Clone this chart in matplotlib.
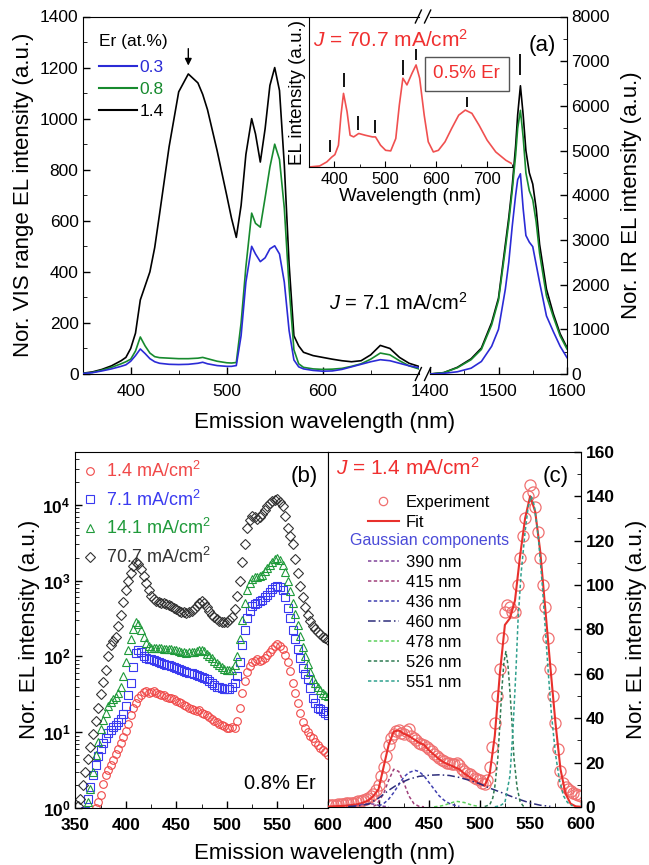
import matplotlib
matplotlib.use('Agg')
import matplotlib.pyplot as plt
import numpy as np
from matplotlib.lines import Line2D
from matplotlib.ticker import MultipleLocator, FuncFormatter, LogLocator, NullFormatter

plt.rcParams['font.family'] = ['Liberation Sans', 'DejaVu Sans']
plt.rcParams['mathtext.fontset'] = 'custom'
plt.rcParams['mathtext.rm'] = 'Liberation Sans'
plt.rcParams['mathtext.it'] = 'Liberation Sans:italic'
plt.rcParams['mathtext.bf'] = 'Liberation Sans:bold'
plt.rcParams['xtick.direction'] = 'in'
plt.rcParams['ytick.direction'] = 'in'

# ---------- (a) VIS part, Er 0.3 / 0.8 / 1.4 at.% ----------
vis_wl = [350, 360, 370, 380, 390, 395, 400, 405, 410, 415, 420, 425, 430, 440, 450, 460, 470, 475,
          480, 490, 500, 505, 510, 515, 520, 526, 530, 535, 540, 545, 550, 555, 560, 565, 570, 575,
          580, 590, 600, 610, 620, 630, 640, 650, 660, 670, 680, 690, 700]
vis_03 = [2, 5, 12, 20, 30, 36, 50, 72, 98, 80, 60, 48, 42, 38, 37, 38, 42, 46,
          40, 33, 30, 30, 33, 150, 360, 500, 470, 440, 455, 490, 502, 470, 360, 170, 55, 28,
          20, 14, 11, 12, 18, 28, 38, 48, 56, 52, 42, 32, 25]
vis_08 = [2, 6, 15, 26, 40, 48, 58, 90, 145, 110, 82, 68, 64, 62, 60, 60, 62, 65,
          60, 50, 44, 43, 45, 200, 420, 630, 590, 575, 690, 810, 900, 840, 650, 340, 95, 40,
          26, 20, 18, 19, 22, 30, 40, 58, 82, 75, 52, 32, 20]
vis_14 = [3, 8, 18, 32, 52, 65, 100, 160, 290, 345, 400, 495, 625, 890, 1105, 1175, 1140, 1095,
          1035, 875, 700, 610, 535, 660, 860, 1000, 940, 830, 960, 1130, 1200, 1110, 820, 430, 150, 110,
          85, 72, 65, 58, 52, 48, 52, 75, 112, 100, 65, 42, 30]

# ---------- (a) IR part ----------
ir_wl = [1400, 1420, 1440, 1460, 1475, 1490, 1500, 1510, 1515, 1520, 1525, 1528, 1532, 1536,
         1540, 1545, 1550, 1555, 1560, 1570, 1580, 1590, 1600]
ir_03 = [0, 15, 50, 130, 280, 620, 1000, 1900, 2500, 3300, 4000, 4350, 4480, 3700,
         3100, 2950, 2850, 2450, 2050, 1300, 950, 620, 366]
ir_08 = [0, 30, 140, 320, 550, 1100, 1650, 2800, 3400, 4100, 4900, 5500, 5900, 5300,
         4500, 4100, 3900, 3400, 2700, 1750, 1280, 850, 560]
ir_14 = [0, 30, 150, 340, 580, 1150, 1700, 2900, 3500, 4200, 5100, 5800, 6450, 5800,
         5000, 4500, 4250, 3700, 2900, 1900, 1350, 900, 590]

# ---------- inset, 0.5% Er at 70.7 mA/cm2 ----------
ins_wl = [350, 371, 385, 395, 401, 408, 413, 418, 425, 431, 438, 448, 461, 475, 481, 491, 501, 511,
          521, 528, 535, 543, 553, 561, 568, 577, 585, 595, 605, 618, 631, 645, 658, 671, 685,
          701, 718, 738, 753]
ins_int = [0, 0.007, 0.034, 0.067, 0.083, 0.146, 0.348, 0.494, 0.371, 0.213, 0.202, 0.225, 0.213,
           0.202, 0.202, 0.146, 0.112, 0.108, 0.191, 0.416, 0.596, 0.551, 0.629, 0.685, 0.596,
           0.348, 0.169, 0.101, 0.112, 0.169, 0.258, 0.348, 0.382, 0.360, 0.281, 0.180, 0.101,
           0.045, 0.016]
ins_peaks = [392, 418, 447, 480, 535, 560, 662]
ins_mark_lo = [0.10, 0.54, 0.25, 0.225, 0.62, 0.72, 0.40]
ins_mark_hi = [0.18, 0.63, 0.34, 0.315, 0.72, 0.79, 0.47]

# ---------- (b) 0.8% Er, current density series (2.5 nm steps, 350-600 nm) ----------
b_wl = np.arange(350, 600.1, 2.5)
b_j14 = [0.3, 0.35, 0.4, 0.45, 0.5, 0.6, 0.7, 0.85, 1.0, 1.2, 1.5, 2.1, 2.7, 3.2, 3.7, 4.3, 5.1, 6.0,
         7.2, 8.7, 10.5, 13, 17, 21, 24, 28, 31, 33.5, 34.5, 33, 34, 34.5, 33, 32, 31, 30.5, 29.5, 28.5,
         28, 27, 26, 25, 24, 23, 22, 21, 20.5, 19.5, 19, 19.5, 18, 17.5, 17, 16, 15, 14, 13.5, 13,
         12.5, 12, 11.5, 11.2, 11.7, 11.5, 14, 21, 33, 48, 62, 75, 84, 88, 91, 88, 90, 96, 104, 113,
         125, 137, 145, 138, 125, 105, 85, 64, 45, 33, 24, 18, 13.5, 11.5, 10, 9, 8.5, 7.5, 6.8, 6.2,
         5.8, 5.4, 5]
b_j71 = [0.3, 0.4, 0.5, 0.7, 0.9, 1.3, 1.9, 2.7, 3.7, 4.8, 6, 7.3, 8.5, 9.7, 10.7, 11.6, 12.5, 13.5,
         15, 17.5, 22, 31, 45, 72, 110, 122, 115, 102, 95, 93, 92, 90, 88, 85, 82, 80, 78, 76,
         74, 72, 70, 68, 66, 64, 63, 61, 60, 58, 56, 55, 53, 52, 50, 47, 44, 42, 40, 39,
         38, 37, 37, 37, 39, 44, 55, 85, 140, 220, 320, 400, 460, 490, 510, 530, 560, 600, 650, 710,
         780, 830, 860, 830, 760, 610, 440, 320, 224, 170, 126, 95, 71, 58, 50, 38, 28, 24, 21, 20,
         19, 18, 17]
b_j141 = [0.5, 0.6, 0.7, 0.8, 0.9, 1.2, 1.8, 3, 5, 7.5, 11, 14.5, 18, 22, 25, 27, 29, 33,
          40, 55, 85, 120, 170, 230, 280, 265, 220, 180, 150, 138, 130, 129, 128, 128, 128, 127, 126, 125,
          124, 122, 120, 117, 115, 113, 112, 113, 114, 115, 117, 120, 122, 116, 108, 101, 95, 88, 82, 76,
          72, 69, 67, 66, 66, 76, 100, 170, 300, 500, 750, 920, 1050, 1100, 1120, 1140, 1200, 1320, 1450, 1600,
          1750, 1900, 2000, 1850, 1600, 1300, 1000, 720, 500, 360, 263, 185, 135, 100, 79, 62, 50, 44, 40, 36,
          33, 31, 30]
b_j707 = [0.85, 1.05, 1.3, 2.0, 3.0, 4.4, 6.3, 9.5, 14, 21, 32, 46, 66, 100, 141, 160, 178, 250,
          355, 520, 760, 1000, 1260, 1550, 1740, 1650, 1410, 1150, 930, 760, 630, 570, 537, 525, 513, 500, 490, 475,
          457, 435, 417, 400, 389, 380, 372, 380, 398, 425, 457, 500, 537, 500, 447, 400, 355, 330, 309, 295,
          288, 285, 288, 305, 331, 420, 630, 1000, 1780, 3000, 5010, 6300, 7080, 6900, 6460, 6800, 7590, 8500, 9550, 10500,
          11200, 11600, 11750, 11000, 9550, 7200, 5010, 3900, 3020, 1900, 1260, 850, 603, 450, 355, 295, 251, 228, 209, 195,
          182, 173, 166]

# ---------- (c) 1.4 mA/cm2, experiment, fit and Gaussian components ----------
c_exp_wl = np.arange(350, 600.1, 2.5)
c_exp = [0.8, 0.9, 1, 1.1, 1.2, 1.3, 1.5, 1.6, 1.8, 1.9, 2, 2.3, 2.5, 2.8, 3, 3.5, 4, 5,
         6, 7.5, 10, 14, 18, 23, 28, 31, 33, 34, 34.5, 33.5, 33, 34, 35, 32, 31, 30, 29, 28.5,
         28, 27, 26, 25, 24, 23, 22, 21, 20.5, 20, 20, 19.5, 19.5, 20, 19, 17, 16, 15.5, 15, 14,
         13, 12.5, 12, 11, 10.5, 12, 18, 27, 38, 50, 62, 76, 88, 91, 90, 88, 88, 100, 112, 122,
         130, 140, 145, 142, 135, 124, 112, 100, 90, 76, 62, 50, 38, 26, 16, 11, 9, 8, 7, 6.5,
         6, 5.5, 5]
c_fit_wl = list(range(350, 601, 5))
c_fit = [0.2, 0.3, 0.4, 0.5, 0.7, 1, 1.3, 2, 3, 5, 8, 18, 28, 34, 34.5, 33, 32, 30.5, 29, 28,
         25.5, 23.5, 21.5, 20, 19, 18, 17, 15, 13.5, 12, 10.5, 9.5, 15, 32, 60, 82, 85, 93, 113, 130,
         140, 133, 115, 89, 63, 38, 17, 6, 1.5, 0.3, 0.1]
g390_wl = [370, 375, 380, 385, 390, 395, 400, 405, 410]
g390 = [0.1, 0.3, 0.8, 1.3, 1.5, 1.3, 0.8, 0.3, 0.1]
g415_wl = [395, 398, 405, 410, 415, 420, 425, 430, 435, 440, 445]
g415 = [0.3, 1, 6, 12, 17, 16, 11, 5, 1.5, 0.3, 0.1]
g436_wl = [400, 405, 410, 415, 420, 425, 430, 436, 440, 445, 450, 455, 460, 465, 470, 475, 480]
g436 = [0.5, 1.5, 3.5, 6.5, 10, 13.5, 15.5, 16.5, 16, 14, 11, 8, 5, 3, 1.6, 0.8, 0.3]
g460_wl = [370, 380, 390, 400, 410, 420, 430, 440, 450, 460, 470, 480, 490, 500, 510, 520, 530, 540, 550, 560, 570]
g460 = [0.2, 0.5, 1.3, 4, 7.5, 10.5, 12.5, 13.8, 14.3, 14.5, 14.2, 13.3, 12, 10.5, 8.5, 6.8, 5, 3.3, 1.8, 0.8, 0.3]
g478_wl = [455, 460, 465, 470, 475, 478, 485, 490, 495, 500]
g478 = [0.1, 0.3, 0.8, 1.6, 2.3, 2.5, 2.0, 1.2, 0.6, 0.2]
g526_wl = [505, 510, 513, 515, 518, 520, 522, 524, 526, 528, 530, 532, 534, 537, 540, 543, 546]
g526 = [0.2, 1, 4, 9, 22, 37, 53, 65, 70, 64, 52, 38, 22, 9, 2.5, 0.5, 0.1]
g551_wl = [515, 520, 525, 530, 533, 536, 538, 541, 545, 548, 551, 554, 558, 562, 565, 568, 571, 575, 579, 583, 587, 592]
g551 = [0.1, 0.5, 2, 14, 35, 62, 84, 105, 124, 135, 140, 136, 122, 100, 80, 60, 42, 24, 12, 5, 2, 0.5]
comp_labels = ['390 nm', '415 nm', '436 nm', '460 nm', '478 nm', '526 nm', '551 nm']


def box(x0, y0, x1, y1):
    return [x0 / 649, 1 - y1 / 865, (x1 - x0) / 649, (y1 - y0) / 865]


fig = plt.figure(figsize=(6.49, 8.65), dpi=100)
c_blue = '#2b2bd6'
c_green = '#178a2e'

# ================= (a) =================
axL = fig.add_axes(box(82.7, 16.5, 418.7, 374))
axR = fig.add_axes(box(430, 16.5, 567, 374))

axL.plot(vis_wl, vis_14, color='k', lw=1.2, zorder=2)
axL.plot(vis_wl, vis_08, color=c_green, lw=1.2, zorder=3)
axL.plot(vis_wl, vis_03, color=c_blue, lw=1.2, zorder=4)
axL.set_xlim(350, 700)
axL.set_ylim(0, 1400)
axL.spines['right'].set_visible(False)
axL.set_xticks([400, 500, 600])
axL.xaxis.set_minor_locator(MultipleLocator(50))
axL.yaxis.set_major_locator(MultipleLocator(200))
axL.yaxis.set_minor_locator(MultipleLocator(100))
axL.tick_params(labelsize=12.5, length=5, width=1)
axL.tick_params(which='minor', length=3)
axL.tick_params(right=False, top=False, which='both')
axL.tick_params(axis='x', pad=7)
axL.tick_params(axis='y', pad=3)
axL.set_ylabel('Nor. VIS range EL intensity (a.u.)', fontsize=16, labelpad=4)

axR.plot(ir_wl, ir_14, color='k', lw=1.2, zorder=2)
axR.plot(ir_wl, ir_08, color=c_green, lw=1.2, zorder=3)
axR.plot(ir_wl, ir_03, color=c_blue, lw=1.2, zorder=4)
axR.set_xlim(1400, 1600)
axR.set_ylim(0, 8000)
axR.spines['left'].set_visible(False)
axR.xaxis.set_major_locator(MultipleLocator(100))
axR.xaxis.set_minor_locator(MultipleLocator(50))
axR.yaxis.set_major_locator(MultipleLocator(1000))
axR.yaxis.set_minor_locator(MultipleLocator(500))
axR.yaxis.tick_right()
axR.yaxis.set_label_position('right')
axR.tick_params(labelsize=12.5, length=5, width=1)
axR.tick_params(which='minor', length=3)
axR.tick_params(left=False, top=False, which='both')
axR.tick_params(axis='x', pad=7)
axR.tick_params(axis='y', pad=3)
axR.set_ylabel('Nor. IR EL intensity (a.u.)', fontsize=16, labelpad=8)

# peak marks in (a)
vis_arr = np.array(vis_14)
pk = int(np.argmax(np.where(np.array(vis_wl) < 500, vis_arr, 0)))
axL.annotate('', xy=(vis_wl[pk], vis_arr[pk] + 22), xytext=(vis_wl[pk], vis_arr[pk] + 110),
             arrowprops=dict(arrowstyle='-|>', color='k', lw=1.0, mutation_scale=10))
pk_ir = int(np.argmax(ir_14))
axR.vlines(ir_wl[pk_ir], 6700, 7150, color='k', lw=1.3)

# axis break marks "//" at bottom and top
for yb in (0.0, 1.0):
    axL.plot((0.990, 1.008), (yb - 0.018, yb + 0.018), color='k', lw=1,
             transform=axL.transAxes, clip_on=False)
    axR.plot((-0.040, 0.005), (yb - 0.018, yb + 0.018), color='k', lw=1,
             transform=axR.transAxes, clip_on=False)

leg = axL.legend([Line2D([], [], color=c_blue, lw=1.5), Line2D([], [], color=c_green, lw=1.5),
                  Line2D([], [], color='k', lw=1.5)], ['0.3', '0.8', '1.4'],
                 title='Er (at.%)', loc='upper left', bbox_to_anchor=(0.012, 0.985), frameon=False,
                 fontsize=12.5, title_fontsize=12.5, handlelength=2.2, handletextpad=0.12,
                 labelspacing=0.4, alignment='left', borderaxespad=0.3)
leg._legend_box.sep = 8
for t, c in zip(leg.get_texts(), [c_blue, c_green, 'k']):
    t.set_color(c)

fig.text(398 / 649, 1 - 303 / 865, r'$J$ = 7.1 mA/cm$^2$', fontsize=14.5, ha='center', va='center')
axR.text(0.82, 0.92, '(a)', transform=axR.transAxes, fontsize=16, ha='center', va='center')
fig.text(325 / 649, 1 - 423 / 865, 'Emission wavelength (nm)', fontsize=16, ha='center', va='center')

# ---------- inset ----------
axi = fig.add_axes(box(309, 18, 512, 167))
axi.patch.set_alpha(0)
axi.plot(ins_wl, ins_int, color='#f05050', lw=1.2)
axi.vlines(ins_peaks, ins_mark_lo, ins_mark_hi, color='k', lw=1.3)
axi.set_xlim(350, 750)
axi.set_ylim(0, 1)
axi.spines['right'].set_visible(False)
axi.spines['top'].set_visible(False)
axi.set_yticks([])
axi.set_xticks([400, 500, 600, 700])
axi.xaxis.set_minor_locator(MultipleLocator(50))
axi.tick_params(labelsize=12, length=4, top=False)
axi.tick_params(which='minor', length=2.5, top=False)
axi.set_xlabel('Wavelength (nm)', fontsize=13.5, labelpad=1)
axi.set_ylabel('EL intensity (a.u.)', fontsize=13.5, labelpad=2)
axi.text(0.02, 0.855, r'$J$ = 70.7 mA/cm$^2$', transform=axi.transAxes, color='#f03030',
         fontsize=15, ha='left', va='center')
axi.text(0.778, 0.627, '0.5% Er', transform=axi.transAxes, color='#f03030', fontsize=13.5,
         ha='center', va='center',
         bbox=dict(boxstyle='square,pad=0.45', fc='white', ec='#555555', lw=1.0))

# ================= (b) =================
axb = fig.add_axes(box(75.3, 451.7, 328, 808))
mk = dict(mfc='none', ms=5.5, mew=0.8, ls='none')
axb.semilogy(b_wl, b_j14, marker='o', mec='#f04848', label='1.4 mA/cm$^2$', **mk)
axb.semilogy(b_wl, b_j71, marker='s', mec='#3a3af0', label='7.1 mA/cm$^2$', **mk)
axb.semilogy(b_wl, b_j141, marker='^', mec='#1f9a3a', label='14.1 mA/cm$^2$', **mk)
axb.semilogy(b_wl, b_j707, marker='D', mec='#333333', label='70.7 mA/cm$^2$',
             mfc='none', ms=5, mew=0.8, ls='none')
axb.set_xlim(350, 600)
axb.set_ylim(1, 10 ** 4.7)
axb.xaxis.set_major_locator(MultipleLocator(50))
axb.xaxis.set_minor_locator(MultipleLocator(25))
axb.yaxis.set_major_locator(LogLocator(base=10, numticks=10))
axb.yaxis.set_minor_locator(LogLocator(base=10, subs=np.arange(2, 10), numticks=10))
axb.yaxis.set_minor_formatter(NullFormatter())
axb.yaxis.set_major_formatter(FuncFormatter(lambda v, p: r'$\mathbf{10^{%d}}$' % round(np.log10(v))))
axb.tick_params(labelsize=12.5, length=5, width=1, top=False, right=False)
axb.tick_params(which='minor', length=3, top=False, right=False)
axb.tick_params(axis='x', pad=7)
for lab in axb.get_xticklabels():
    lab.set_fontweight('bold')
axb.set_ylabel('Nor. EL intensity (a.u.)', fontsize=16, labelpad=2)
axb.legend(loc='upper left', bbox_to_anchor=(-0.02, 1.01), frameon=False, fontsize=13,
           handlelength=0.8, handletextpad=0.5, labelspacing=0.48, labelcolor='markeredgecolor',
           borderaxespad=0.3)
axb.text(0.905, 0.93, '(b)', transform=axb.transAxes, fontsize=16, ha='center', va='center')
axb.text(0.81, 0.07, '0.8% Er', transform=axb.transAxes, fontsize=14.5, ha='center', va='center')

# ================= (c) =================
axc = fig.add_axes(box(328, 451.7, 580.7, 807))
comp_wl = [g390_wl, g415_wl, g436_wl, g460_wl, g478_wl, g526_wl, g551_wl]
comp_y = [g390, g415, g436, g460, g478, g526, g551]
comp_col = ['#80449a', '#a0407a', '#4040b0', '#2c2c7a', '#5cd05c', '#2f7a52', '#2fa08e']
comp_ls = [(0, (2.2, 1.6))] * 3 + [(0, (5, 2, 1, 2))] + [(0, (2.2, 1.6))] * 3
handles = [Line2D([], [], ls='none', marker='o', mfc='none', mec='#f07070', ms=6, mew=0.9),
           Line2D([], [], color='#e8302c', lw=1.5),
           Line2D([], [], ls='none')]
axc.plot(c_exp_wl, c_exp, ls='none', marker='o', mfc='none', mec='#f07070', ms=8, mew=0.9, zorder=2)
axc.plot(c_fit_wl, c_fit, color='#e8302c', lw=1.5, zorder=3)
for xw, yv, col, ls in zip(comp_wl, comp_y, comp_col, comp_ls):
    axc.plot(xw, yv, color=col, ls=ls, lw=1.1, zorder=4)
    handles.append(Line2D([], [], color=col, ls=ls, lw=1.1))
axc.set_xlim(350, 600)
axc.set_ylim(0, 160)
axc.set_xticks([400, 450, 500, 550, 600])
axc.xaxis.set_minor_locator(MultipleLocator(25))
axc.yaxis.set_major_locator(MultipleLocator(20))
axc.yaxis.set_minor_locator(MultipleLocator(10))
axc.yaxis.tick_right()
axc.yaxis.set_label_position('right')
axc.tick_params(labelsize=12.5, length=5, width=1, top=False, left=False)
axc.tick_params(which='minor', length=3, top=False, left=False)
axc.tick_params(axis='x', pad=7)
for lab in axc.get_xticklabels() + axc.get_yticklabels():
    lab.set_fontweight('bold')
axc.set_ylabel('Nor. EL intensity (a.u.)', fontsize=16, labelpad=8)
labels = ['Experiment', 'Fit', ' '] + comp_labels
axc.legend(handles, labels, loc='upper left', bbox_to_anchor=(0.119, 0.907), frameon=False,
           fontsize=12, handlelength=1.85, handletextpad=0.42, labelspacing=0.3, borderaxespad=0.2)
axc.text(0.087, 0.751, 'Gaussian components', transform=axc.transAxes, color='#4a4ad8', fontsize=11.5,
         ha='left', va='center')
axc.text(0.03, 0.955, r'$J$ = 1.4 mA/cm$^2$', transform=axc.transAxes, color='#f03030', fontsize=15,
         ha='left', va='center')
axc.text(0.9, 0.93, '(c)', transform=axc.transAxes, fontsize=16, ha='center', va='center')

fig.text(325 / 649, 1 - 853 / 865, 'Emission wavelength (nm)', fontsize=16, ha='center', va='center')

fig.savefig('out.png', dpi=100)
